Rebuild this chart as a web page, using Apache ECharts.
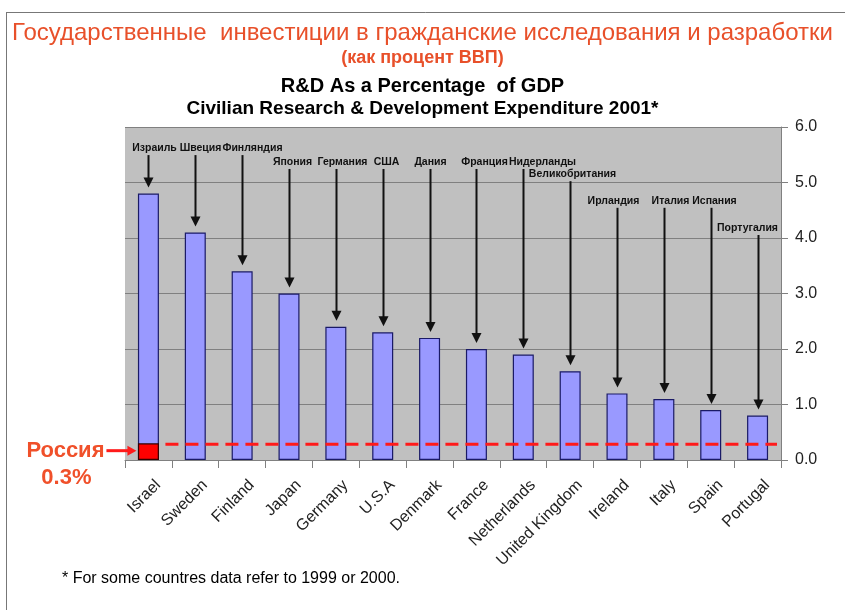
<!DOCTYPE html>
<html><head><meta charset="utf-8">
<script src="https://cdn.jsdelivr.net/npm/echarts@6/dist/echarts.min.js"></script>
<style>html,body{margin:0;padding:0;background:#fff}#c{width:845px;height:610px}</style>
</head><body><div id="c"></div>
<script>
// ---- data ----
const categories = ['Israel','Sweden','Finland','Japan','Germany','U.S.A','Denmark','France','Netherlands','United Kingdom','Ireland','Italy','Spain','Portugal'];
const rdValues = [4.8,4.1,3.4,3.0,2.4,2.3,2.2,2.0,1.9,1.6,1.2,1.1,0.9,0.8];
const russianNames = ['Израиль','Швеция','Финляндия','Япония','Германия','США','Дания','Франция','Нидерланды','Великобритания','Ирландия','Италия','Испания','Португалия'];
const russiaValue = 0.3;
const russiaLabel = 'Россия';
const russiaText = '0.3%';
const yMin = 0, yMax = 6, yStep = 1;

// ---- layout (not data) ----
const labelLevels = [5.62,5.62,5.62,5.37,5.37,5.37,5.37,5.37,5.37,5.15,4.67,4.67,4.67,4.18];
const labelDx = [6,5,10,3,6,3,0,8,19,2,-4,6,3,-11];
const FONT = '"Liberation Sans", Arial, sans-serif';

const chart = echarts.init(document.getElementById('c'));
const arrowData = categories.map((c, i) => [i, rdValues[i], labelLevels[i]]);
const catData = categories.map((c, i) => [i, 0]);

chart.setOption({
  backgroundColor: '#fff',
  animation: false,
  textStyle: { fontFamily: FONT },
  graphic: [
    { type: 'line', shape: { x1: 6.5, y1: 12.5, x2: 845, y2: 12.5 }, style: { stroke: '#777', lineWidth: 1 } },
    { type: 'line', shape: { x1: 6.5, y1: 12, x2: 6.5, y2: 610 }, style: { stroke: '#777', lineWidth: 1 } },
    { type: 'text', left: 'center', top: 21, style: { text: 'Государственные  инвестиции в гражданские исследования и разработки', font: '24px ' + FONT, fill: '#e8502a' } },
    { type: 'text', left: 'center', top: 49, style: { text: '(как процент ВВП)', font: 'bold 18px ' + FONT, fill: '#e8502a' } },
    { type: 'text', left: 'center', top: 76, style: { text: 'R&D As a Percentage  of GDP', font: 'bold 20px ' + FONT, fill: '#000' } },
    { type: 'text', left: 'center', top: 99, style: { text: 'Civilian Research & Development Expenditure 2001*', font: 'bold 19px ' + FONT, fill: '#000' } },
    { type: 'text', left: 62, top: 571, style: { text: '* For some countres data refer to 1999 or 2000.', font: '16px ' + FONT, fill: '#000' } }
  ],
  grid: { left: 125, right: 64, top: 127, bottom: 150, show: true, backgroundColor: '#c0c0c0', borderWidth: 0 },
  xAxis: {
    type: 'category', data: categories,
    axisLine: { lineStyle: { color: '#808080', width: 1 } },
    axisTick: { show: true, interval: 0, length: 8, lineStyle: { color: '#808080' } },
    axisLabel: { show: false, interval: 0 }
  },
  yAxis: {
    type: 'value', position: 'right', min: yMin, max: yMax, interval: yStep,
    axisLine: { show: true, lineStyle: { color: '#808080' } },
    axisTick: { show: true, length: 7, lineStyle: { color: '#808080' } },
    axisLabel: { fontSize: 16, color: '#222', margin: 14, formatter: v => v.toFixed(1), fontFamily: FONT },
    splitLine: { show: true, lineStyle: { color: '#808080', width: 1 } }
  },
  series: [
    {
      type: 'bar', data: rdValues, barWidth: 21,
      itemStyle: { color: '#9999ff', borderColor: '#1a1a66', borderWidth: 1.2 },
      z: 2
    },
    {
      type: 'bar', data: rdValues.map((v, i) => i === 0 ? russiaValue : '-'), barWidth: 21, barGap: '-100%',
      itemStyle: { color: '#ff0000', borderColor: '#330000', borderWidth: 1.2 },
      z: 3
    },
    {
      type: 'custom', data: catData, z: 5, clip: false,
      renderItem(params, api) {
        const p = api.coord([api.value(0), 0]);
        return { type: 'text', x: p[0] + 4, y: p[1] + 17, rotation: Math.PI / 4,
          style: { text: categories[api.value(0)], align: 'right', verticalAlign: 'top', font: '16px ' + FONT, fill: '#222' } };
      }
    },
    {
      type: 'custom', data: arrowData, z: 5, clip: false,
      renderItem(params, api) {
        const i = api.value(0), v = api.value(1), lv = api.value(2);
        const top = api.coord([i, lv]);
        const bar = api.coord([i, v]);
        const x = Math.round(top[0]) + 0.5, y0 = top[1];
        const tipY = bar[1] - 6;
        return { type: 'group', children: [
          { type: 'text', style: { text: russianNames[i], x: x + labelDx[i], y: y0, align: 'center', verticalAlign: 'middle', font: 'bold 10.5px ' + FONT, fill: '#111' } },
          { type: 'line', shape: { x1: x, y1: y0 + 7, x2: x, y2: tipY - 8 }, style: { stroke: '#111', lineWidth: 2 } },
          { type: 'polygon', shape: { points: [[x - 5, tipY - 10], [x + 5, tipY - 10], [x, tipY]] }, style: { fill: '#111' } }
        ]};
      }
    },
    {
      type: 'custom', data: [[0, russiaValue]], z: 6, clip: false,
      renderItem(params, api) {
        const p = api.coord([0, api.value(1)]);
        const base = api.coord([0, 0]);
        const cs = params.coordSys;
        const yl = p[1] + 1;
        const arrowY = (p[1] + base[1]) / 2 - 1;
        return { type: 'group', children: [
          { type: 'line', shape: { x1: p[0] + 17, y1: yl, x2: cs.x + cs.width - 4, y2: yl }, style: { stroke: '#ff1a1a', lineWidth: 3, lineDash: [13, 7] } },
          { type: 'text', style: { text: russiaLabel, x: p[0] - 83, y: arrowY, align: 'center', verticalAlign: 'middle', font: 'bold 22px ' + FONT, fill: '#f0502a' } },
          { type: 'text', style: { text: russiaText, x: p[0] - 82, y: arrowY + 27, align: 'center', verticalAlign: 'middle', font: 'bold 22px ' + FONT, fill: '#f0502a' } },
          { type: 'line', shape: { x1: p[0] - 42, y1: arrowY, x2: p[0] - 20, y2: arrowY }, style: { stroke: '#ff1a1a', lineWidth: 3 } },
          { type: 'polygon', shape: { points: [[p[0] - 21, arrowY - 5], [p[0] - 21, arrowY + 5], [p[0] - 12, arrowY]] }, style: { fill: '#ff1a1a' } }
        ]};
      }
    }
  ]
});
</script>
</body></html>
